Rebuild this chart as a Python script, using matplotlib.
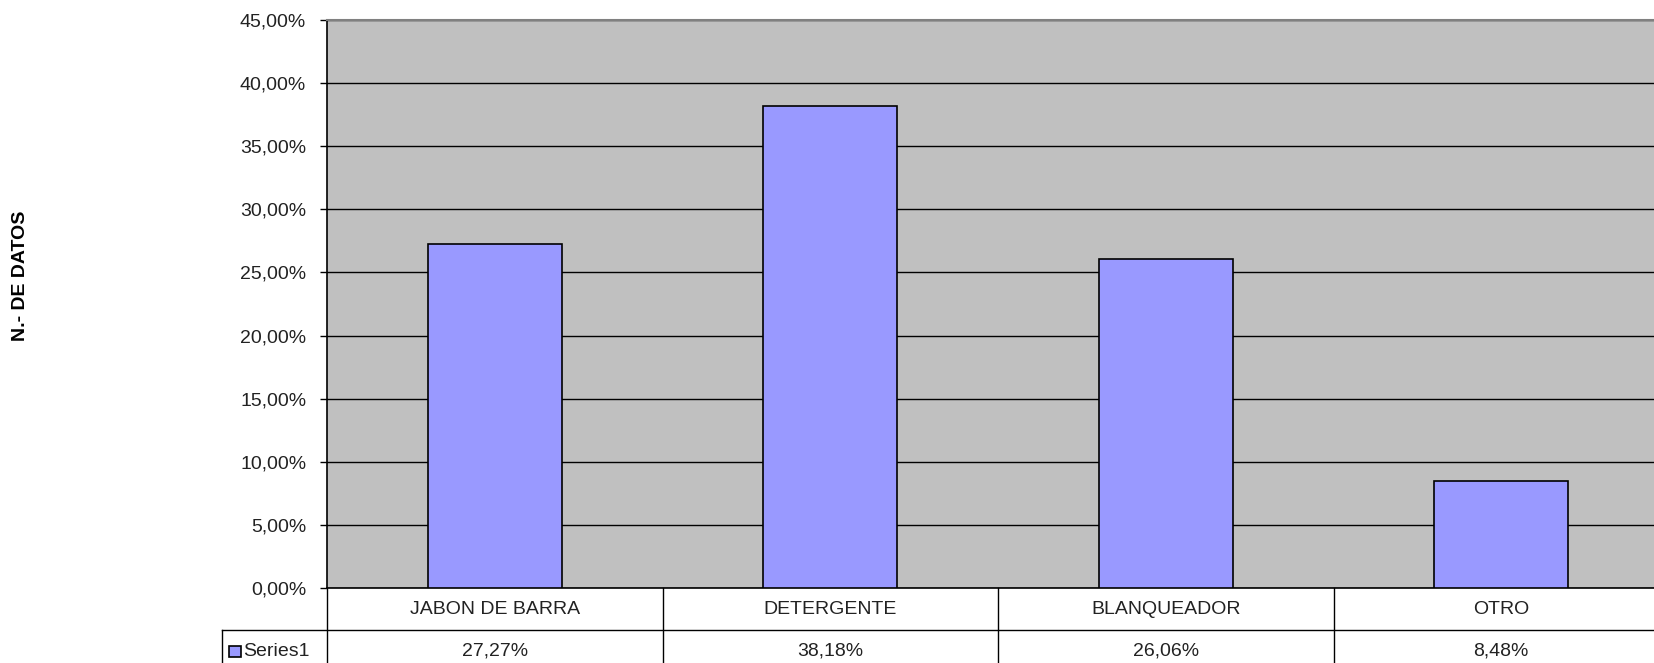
import matplotlib.pyplot as plt
from matplotlib.ticker import FuncFormatter, MultipleLocator
from matplotlib.patches import Rectangle

categories = ["JABON DE BARRA", "DETERGENTE", "BLANQUEADOR", "OTRO"]
values = [27.27, 38.18, 26.06, 8.48]
series_name = "Series1"

bar_color = "#9999FF"
plot_bg = "#C0C0C0"
font = "Liberation Sans"


def pct(v, pos=None):
    return f"{v:.2f}".replace(".", ",") + "%"


fig = plt.figure(figsize=(16.54, 6.63), dpi=100)
W, H = 1654, 663
left_px, top_px, bottom_px = 327, 20, 588
col_px = 335.5
ax_w = col_px * len(categories)
ax = fig.add_axes([left_px / W, 1 - bottom_px / H, ax_w / W, (bottom_px - top_px) / H])
ax.set_facecolor(plot_bg)

x = range(len(categories))
ax.bar(x, values, width=0.4, color=bar_color, edgecolor="black", linewidth=1.2, zorder=3)

ax.set_xlim(-0.5, len(categories) - 0.5)
ax.set_ylim(0, 45)
ax.yaxis.set_major_locator(MultipleLocator(5))
ax.yaxis.set_major_formatter(FuncFormatter(pct))
ax.grid(axis="y", color="black", linewidth=1.0, zorder=1)
ax.set_xticks([])
ax.tick_params(axis="y", direction="out", length=5, width=1, pad=10, labelsize=14, labelcolor="#222222")
for lab in ax.get_yticklabels():
    lab.set_fontfamily(font)

ax.spines["right"].set_visible(False)
ax.spines["top"].set_color("#808080")
ax.spines["top"].set_linewidth(1.5)
ax.spines["left"].set_linewidth(1.2)
ax.spines["bottom"].set_linewidth(1.2)

# axis title sits far to the left, as in the original sheet
fig.text(21 / W, 1 - 276 / H, "N.- DE DATOS", rotation=90, ha="center", va="center",
         fontsize=14, fontweight="bold", fontfamily=font)

# data table under the plot
trans = ax.get_xaxis_transform()
ax_h = bottom_px - top_px
r1 = 42 / ax_h
r2 = 84 / ax_h
legend_left = -0.5 - (left_px - 222) / col_px

line_kw = dict(color="black", linewidth=1.0, transform=trans, clip_on=False)
for i in range(len(categories) + 1):
    ax.plot([i - 0.5, i - 0.5], [0, -r2], **line_kw)
ax.plot([legend_left, legend_left], [-r1, -r2], **line_kw)
ax.plot([legend_left, len(categories) - 0.5], [-r1, -r1], **line_kw)

for i, (cat, v) in enumerate(zip(categories, values)):
    ax.text(i, -r1 / 2, cat, transform=trans, ha="center", va="center",
            fontsize=14, fontfamily=font, color="#222222", clip_on=False)
    ax.text(i, -r1 - r1 / 2, pct(v), transform=trans, ha="center", va="center",
            fontsize=14, fontfamily=font, color="#222222", clip_on=False)

key_x = legend_left + 7 / col_px
key_w = 12 / col_px
key_h = 11 / ax_h
ax.add_patch(Rectangle((key_x, -r1 - r1 / 2 - key_h / 2), key_w, key_h, transform=trans,
                       facecolor=bar_color, edgecolor="black", linewidth=1.2, clip_on=False))
ax.text(key_x + key_w + 2 / col_px, -r1 - r1 / 2, series_name, transform=trans, ha="left",
        va="center", fontsize=14, fontfamily=font, color="#222222", clip_on=False)

fig.savefig("out.png", dpi=100)
